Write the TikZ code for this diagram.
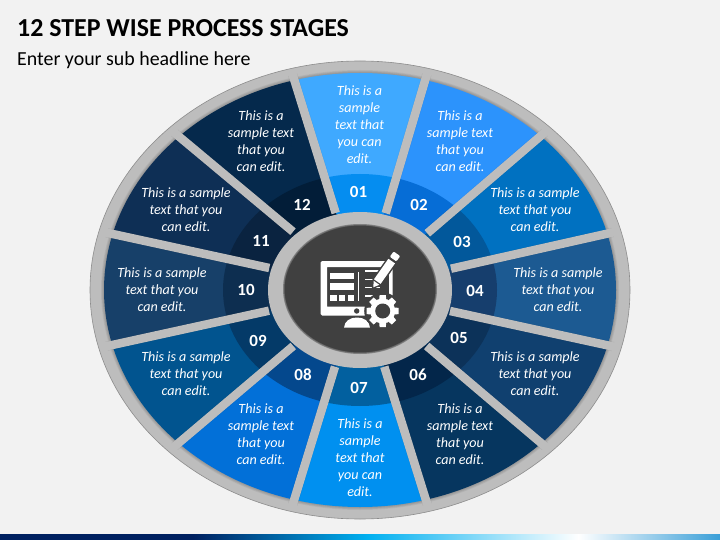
\documentclass[tikz,border=0pt]{standalone}
\usepackage{fontspec}
\setmainfont{Carlito}
\usetikzlibrary{calc}
\definecolor{bgc}{HTML}{F2F2F2}
\definecolor{rimc}{HTML}{BDBDBD}
\definecolor{rimedge}{HTML}{8C8C8C}
\definecolor{hubc}{HTML}{404040}
\tikzset{
  x=1pt,y=-1pt,
  divider/.style={line width=8.5pt,rimc},
  dividershadow/.style={line width=9.5pt,black,opacity=.06},
  stagetext/.style={text=white,align=center,font=\fontsize{14.1}{17}\selectfont\itshape,inner sep=0pt,yshift=-0.8pt},
  stagenum/.style={text=white,font=\fontsize{17}{18}\selectfont\bfseries,inner sep=0pt},
  iconw/.style={fill=white,draw=none},
}
\begin{document}
\begin{tikzpicture}
\useasboundingbox (0,0) rectangle (720,540);
\fill[bgc] (0,0) rectangle (720,540);
% bottom bar
\fill[color={rgb,255:red,0;green,32;blue,96}] (0,534) rectangle (193.5,540);
\shade[left color={rgb,255:red,0;green,32;blue,96},right color={rgb,255:red,0;green,176;blue,240}] (193,534) rectangle (367.5,540);
\shade[left color={rgb,255:red,0;green,176;blue,240},right color=white] (367,534) rectangle (578.5,540);
\shade[left color=white,right color={rgb,255:red,58;green,159;blue,216}] (578,534) rectangle (720,540);
% title
\node[anchor=base west,inner sep=0pt,font=\fontsize{25.9}{28}\selectfont\bfseries] (title) at (17,37) {12 STEP WISE PROCESS STAGES};
\node[anchor=base west,inner sep=0pt,font=\fontsize{19.9}{22}\selectfont] (sub) at (17,66) {Enter your sub headline here};
% rim
\fill[rimc,draw=rimedge,line width=.6pt] (360,290) ellipse (270 and 229);
\foreach \w in {6,4.5,3,1.5}{\draw[black,opacity=.05,line width=\w pt] (360,290) ellipse (256 and 217);}
% coordinates
\coordinate (c) at (360,290);
\foreach \n/\x/\y in {0/294.3/80,1/425.5/79,2/540.3/136.3,3/607/233.7,4/607.3/345.3,5/540.7/442.7,6/425.7/499.3,7/294.3/499.3,8/179/442.7,9/112.3/345,10/112.7/234,11/178.7/136.3}{\coordinate (o\n) at (\x,\y);}
\foreach \n/\x/\y in {0/335.7/213,1/385.7/213.3,2/427.3/233.3,3/451/268.7,4/450/311,5/426.7/346,6/384.3/366.7,7/335/366.7,8/293.3/346,9/269/310.7,10/269.3/268,11/293/231.7}{\coordinate (i\n) at (\x,\y);}
% wedges
\foreach \a/\b/\co/\ci in {
 0/1/3FA9FF/058DF0,
 1/2/2C93FC/066DD6,
 2/3/0071C1/02589B,
 3/4/1C5A92/163E6D,
 4/5/10406F/0C3259,
 5/6/06365F/03264A,
 6/7/0090F0/02609F,
 7/8/0270D8/04488D,
 8/9/01548F/043A68,
 9/10/174069/0D2E50,
 10/11/0E2F55/0A2340,
 11/0/05294C/021D38}{
 \begin{scope}
 \clip (c) -- ($(c)!1.4!(o\a)$) -- ($(c)!1.4!(o\b)$) -- cycle;
 \definecolor{wo}{HTML}{\co}\definecolor{wi}{HTML}{\ci}
 \fill[wo] (c) ellipse (256 and 217);
 \fill[wi] (c) ellipse (137 and 116);
 \end{scope}
}
% dividers
\begin{scope}
\clip (c) ellipse (262 and 223);
\foreach \n in {0,...,11}{\draw[dividershadow] (i\n) -- ($(i\n)!1.04!(o\n)$);}
\end{scope}
\foreach \n in {0,...,11}{\draw[divider] (i\n) -- ($(i\n)!1.06!(o\n)$);}
% hub
\fill[rimc] (360,290) ellipse (92 and 78);
\fill[hubc] (360,289) ellipse (77 and 65);
\foreach \w in {3,1.5}{\draw[rimc,opacity=.3,line width=\w pt] (360,289) ellipse (77 and 65);}
% icon: monitor
\fill[iconw,even odd rule] [rounded corners=1.5pt] (320.7,261) rectangle (392.7,315.7) [sharp corners] (327,267) rectangle (389,306.7);
\fill[hubc] (356.7,311) circle (2.7);
\fill[iconw] (344,327.7) .. controls (344.5,321) and (350,317.5) .. (357,317.5) .. controls (364,317.5) and (369.5,321) .. (370,327.7) -- cycle;
\fill[iconw] (330,272.7) rectangle (354,279.3);
\fill[iconw] (330,283.3) rectangle (354,290);
\fill[iconw] (330,294.7) rectangle (336.7,300.7);
\fill[iconw] (339.3,294.7) rectangle (345.3,300.7);
\fill[iconw] (348.3,294.7) rectangle (354,300.7);
\fill[iconw] (357.7,271.7) rectangle (359.3,300.7);
\fill[iconw] (365,270.3) rectangle (380,271.8);
\fill[iconw] (365,278.5) rectangle (380,280);
\fill[iconw] (365,286.5) rectangle (380,288);
\fill[iconw] (365,295.2) rectangle (380,296.7);
% icon: pen
\draw[hubc,line width=3pt,line join=round,fill=hubc] (373.3,287.3) -- (380.6,283.9) -- (395,263.4) -- (400.2,256.1) -- (393.6,251.5) -- (388.4,258.8) -- (374,279.3) -- cycle;
\fill[iconw] (373.3,287.3) -- (379.3,284.8) -- (373.7,280.8) -- cycle;
\fill[iconw] (380.6,283.9) -- (395,263.4) -- (388.4,258.8) -- (374,279.3) -- cycle;
\fill[iconw,rounded corners=1pt] (396.4,261.4) -- (400.2,256.1) -- (393.6,251.5) -- (389.8,256.8) -- cycle;
% icon: gear
\fill[hubc] (382.7,311) circle (18.5);
\fill[iconw] (382.7,311) circle (12.5);
\foreach \a in {0,45,...,315}{
 \fill[iconw,line join=round] ($(382.7,311)+(\a-17:12)$) -- ($(382.7,311)+(\a-11:16.3)$) -- ($(382.7,311)+(\a+11:16.3)$) -- ($(382.7,311)+(\a+17:12)$) -- cycle;
}
\fill[hubc] (382.7,311) circle (7.5);
% texts
\node[stagetext] (t1) at (359.5,124) {This is a\\sample\\text that\\you can\\edit.};
\node[stagetext] (t2) at (460,140) {This is a\\sample text\\that you\\can edit.};
\node[stagetext] (t3) at (535,209) {This is a sample\\text that you\\can edit.};
\node[stagetext] (t4) at (558,289) {This is a sample\\text that you\\can edit.};
\node[stagetext] (t5) at (535,373) {This is a sample\\text that you\\can edit.};
\node[stagetext] (t6) at (460,433) {This is a\\sample text\\that you\\can edit.};
\node[stagetext] (t7) at (360,457) {This is a\\sample\\text that\\you can\\edit.};
\node[stagetext] (t8) at (261,433) {This is a\\sample text\\that you\\can edit.};
\node[stagetext] (t9) at (186,373) {This is a sample\\text that you\\can edit.};
\node[stagetext] (t10) at (162,289) {This is a sample\\text that you\\can edit.};
\node[stagetext] (t11) at (186,209) {This is a sample\\text that you\\can edit.};
\node[stagetext] (t12) at (261,140) {This is a\\sample text\\that you\\can edit.};
\node[stagenum] (n1) at (358.5,192) {01};
\node[stagenum] (n2) at (419,205) {02};
\node[stagenum] (n3) at (462,242) {03};
\node[stagenum] (n4) at (475,291) {04};
\node[stagenum] (n5) at (459,338) {05};
\node[stagenum] (n6) at (418,375) {06};
\node[stagenum] (n7) at (359,388) {07};
\node[stagenum] (n8) at (303,375) {08};
\node[stagenum] (n9) at (258,341) {09};
\node[stagenum] (n10) at (246,290) {10};
\node[stagenum] (n11) at (261,241) {11};
\node[stagenum] (n12) at (302,205) {12};
\end{tikzpicture}
\end{document}
